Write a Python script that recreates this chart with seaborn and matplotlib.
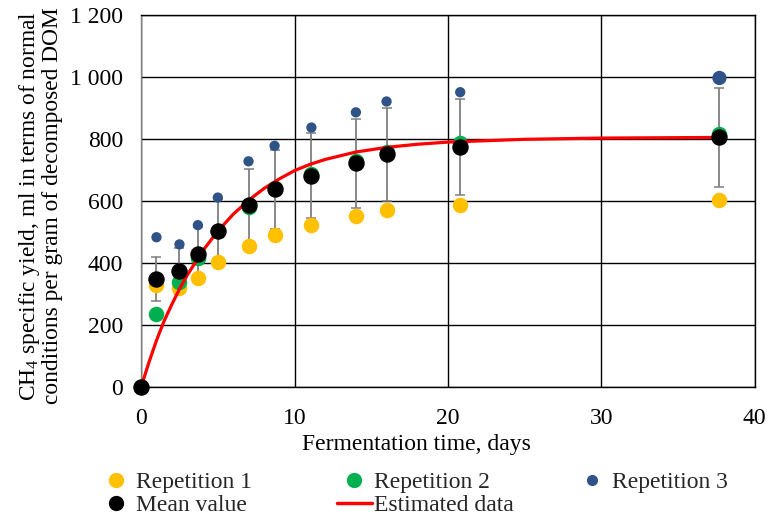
import numpy as np
import pandas as pd
import matplotlib
matplotlib.use("Agg")
import matplotlib.pyplot as plt
from matplotlib.lines import Line2D
import seaborn as sns

# Measured specific methane yield per fermentation day
days = [0, 1, 2.5, 3.7, 5, 7, 8.7, 11.1, 14, 16, 20.8, 37.7]
rep1 = [0, 328, 320, 352, 402, 455, 490, 523, 551, 571, 588, 602]
rep2 = [0, 235, 340, 415, 504, 582, 641, 688, 728, 757, 786, 816]
rep3 = [0, 483, 460, 522, 611, 728, 778, 837, 886, 921, 951, 997]
mean_value = [0, 348, 374, 430, 504, 586, 638, 682, 722, 751, 773, 805]
mean_err = [0, 70, 75, 86, 101, 117, 128, 136, 144, 150, 155, 161]

# Estimated (model) curve
est_days = [0, 0.5, 1, 1.5, 2, 2.5, 3, 4, 5, 6, 7, 8, 9, 10, 11, 12, 14,
            16, 18, 20, 25, 30, 37.7]
est_vals = [0, 78, 150, 213, 266, 316, 360, 438, 503, 557, 602, 640, 671,
            698, 718, 734, 758, 773, 783, 790, 799, 803, 805]

x_ticks = [0, 10, 20, 30, 40]
y_ticks = [0, 200, 400, 600, 800, 1000, 1200]
y_tick_labels = ["0", "200", "400", "600", "800", "1 000", "1 200"]

sns.set_theme(style="white")
plt.rcParams["font.family"] = ["Liberation Serif", "DejaVu Serif"]
plt.rcParams["mathtext.fontset"] = "custom"
plt.rcParams["mathtext.rm"] = "Liberation Serif"

df = pd.DataFrame({"day": days, "rep1": rep1, "rep2": rep2, "rep3": rep3,
                   "mean": mean_value, "err": mean_err})
est = pd.DataFrame({"day": est_days, "value": est_vals})

c_rep1 = "#FFC000"
c_rep2 = "#00B050"
c_rep3 = "#2F5386"
c_mean = "#000000"
c_est = "#FF0000"
fs = 17

fig = plt.figure(figsize=(7.67, 5.18), dpi=100)
ax = fig.add_axes([0.184, 0.253, 0.800, 0.718])

ax.errorbar(df["day"], df["mean"], yerr=df["err"], fmt="none",
            ecolor="#7F7F7F", elinewidth=1.3, capsize=3.5, capthick=1.1,
            zorder=2)

sns.scatterplot(data=df, x="day", y="rep1", ax=ax, color=c_rep1, s=125,
                linewidth=0, zorder=3, clip_on=False)
sns.scatterplot(data=df, x="day", y="rep2", ax=ax, color=c_rep2, s=125,
                linewidth=0, zorder=4, clip_on=False)
rep3_sizes = [55] * (len(days) - 1) + [105]
ax.scatter(df["day"], df["rep3"], s=rep3_sizes, color=c_rep3, linewidths=0,
           zorder=5, clip_on=False)
sns.lineplot(data=est, x="day", y="value", ax=ax, color=c_est, linewidth=2.3,
             zorder=6)
sns.scatterplot(data=df, x="day", y="mean", ax=ax, color=c_mean, s=140,
                linewidth=0, zorder=7, clip_on=False)

ax.set_xlim(0, 40)
ax.set_ylim(0, 1200)
ax.set_xticks(x_ticks)
ax.set_yticks(y_ticks)
ax.set_yticklabels(y_tick_labels)
ax.tick_params(axis="both", length=0, labelsize=fs, colors="black")
ax.tick_params(axis="y", pad=13)
ax.tick_params(axis="x", pad=15)
ax.grid(True, color="black", linewidth=1.0)
ax.set_axisbelow(True)
for side, sp in ax.spines.items():
    sp.set_visible(True)
    sp.set_color("black")
    sp.set_linewidth(1.0)
ax.spines["left"].set_color("#808080")

ax.set_xlabel("Fermentation time, days", fontsize=fs, color="black")
ax.xaxis.set_label_coords(0.448, -0.127)
ax.set_ylabel("CH$_\\mathregular{4}$ specific yield, ml in terms of normal\n"
              "conditions per gram of decomposed DOM",
              fontsize=16.8, color="black", linespacing=0.95)
ax.yaxis.set_label_coords(-0.128, 0.487)

# Legend laid out as three equal-width columns
marker_kw = dict(marker="o", linestyle="none")
legend_cols = [
    ([Line2D([], [], color=c_rep1, markersize=10, **marker_kw),
      Line2D([], [], color=c_mean, markersize=10, **marker_kw)],
     ["Repetition 1", "Mean value"], 99),
    ([Line2D([], [], color=c_rep2, markersize=10, **marker_kw),
      Line2D([], [], color=c_est, linewidth=2.5)],
     ["Repetition 2", "Estimated data"], 337),
    ([Line2D([], [], color=c_rep3, markersize=7, **marker_kw)],
     ["Repetition 3"], 575),
]
for handles, labels, left_px in legend_cols:
    fig.legend(handles, labels, loc="upper left",
               bbox_to_anchor=(left_px / 767, 0.089), ncol=1, frameon=False,
               fontsize=fs, handlelength=1.48, handletextpad=0.08,
               labelspacing=0.05, borderaxespad=0, borderpad=0)

fig.savefig("out.png", dpi=100)
